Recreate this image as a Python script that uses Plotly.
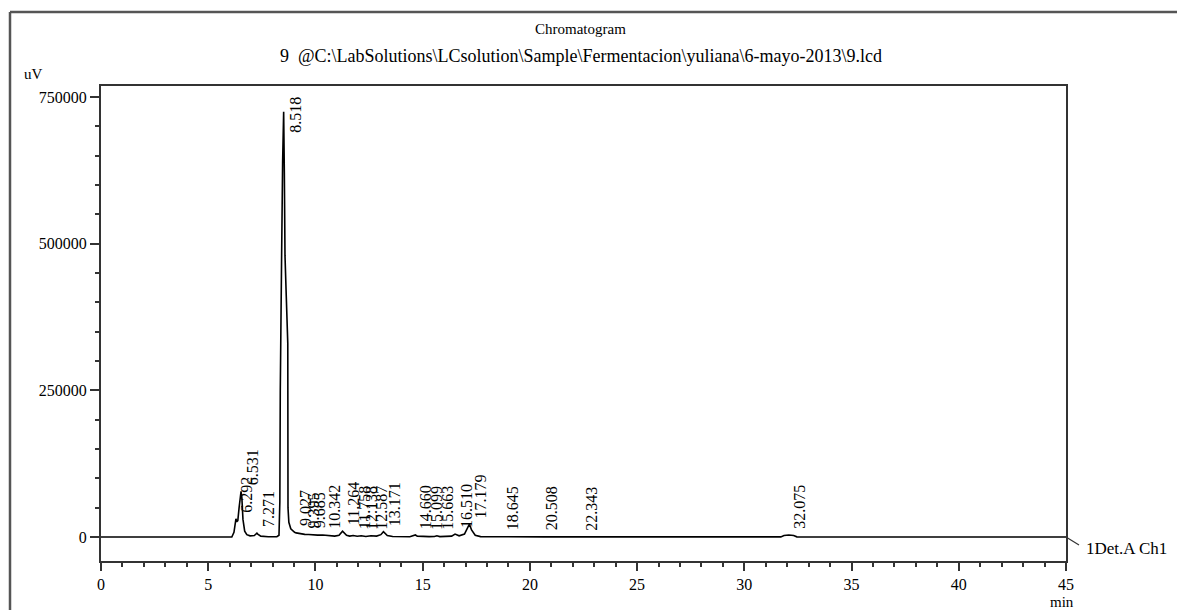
import plotly.graph_objects as go

# ---------------- data ----------------
time_min = [0.0, 6.10, 6.20, 6.26, 6.292, 6.33, 6.38, 6.44, 6.49, 6.531, 6.57, 6.62, 6.70,
            6.80, 6.95, 7.15, 7.24, 7.271, 7.31, 7.45, 7.80, 8.20, 8.30, 8.34, 8.36, 8.38,
            8.42, 8.47, 8.518, 8.55, 8.58, 8.64, 8.69, 8.71, 8.72, 8.76, 8.85, 8.95, 9.027,
            9.10, 9.30, 9.395, 9.50, 9.685, 9.90, 10.10, 10.342, 10.60, 10.90, 11.10, 11.264,
            11.45, 11.60, 11.758, 11.95, 12.138, 12.35, 12.587, 12.85, 13.05, 13.171, 13.35,
            13.60, 14.40, 14.60, 14.660, 14.75, 14.95, 15.099, 15.30, 15.55, 15.663, 15.80,
            16.35, 16.510, 16.70, 16.95, 17.10, 17.179, 17.28, 17.45, 17.70, 18.50, 18.645,
            18.80, 20.40, 20.508, 20.65, 22.25, 22.343, 22.45, 31.70, 31.85, 32.075, 32.30,
            32.45, 45.0]
signal_uv = [0, 0, 8000, 24000, 31000, 26000, 28000, 50000, 70000, 78000, 66000, 30000, 10000,
             4000, 2000, 2500, 5500, 6500, 5000, 1500, 500, 600, 3000, 60000, 250000, 360000,
             470000, 640000, 725000, 620000, 480000, 410000, 340000, 330000, 50000, 25000, 14000,
             10000, 8000,
             7000, 5500, 5000, 4500, 4200, 3500, 3200, 3400, 2500, 1500, 3000, 10000,
             3000, 1500, 2500, 1200, 2000, 1000, 2200, 1500, 4000, 9000, 2500,
             800, 500, 2500, 3500, 1500, 800, 1500, 700, 900, 2000, 700,
             1500, 5000, 2000, 5000, 15000, 22000, 12000, 3000, 700, 400, 1200,
             300, 300, 900, 300, 300, 800, 200, 200, 2500, 3500, 2500,
             300, 0]

peak_rt = [6.292, 6.531, 7.271, 8.518, 9.027, 9.395, 9.685, 10.342, 11.264, 11.758, 12.138,
           12.587, 13.171, 14.660, 15.099, 15.663, 16.510, 17.179, 18.645, 20.508, 22.343, 32.075]
peak_height = [31000, 78000, 6500, 725000, 8000, 5000, 4200, 3400, 10000, 2500, 2000,
               2200, 9000, 3500, 1500, 2000, 5000, 22000, 1200, 900, 800, 3500]
peak_label = ["6.292", "6.531", "7.271", "8.518", "9.027", "9.395", "9.685", "10.342", "11.264",
              "11.758", "12.138", "12.587", "13.171", "14.660", "15.099", "15.663", "16.510",
              "17.179", "18.645", "20.508", "22.343", "32.075"]

x_tick_vals = [0, 5, 10, 15, 20, 25, 30, 35, 40, 45]
y_tick_vals = [0, 250000, 500000, 750000]
y_tick_text = ["0", "250000", "500000", "750000"]

title_text = "Chromatogram"
subtitle_text = "9  @C:\\LabSolutions\\LCsolution\\Sample\\Fermentacion\\yuliana\\6-mayo-2013\\9.lcd"
y_unit = "uV"
x_unit = "min"
channel_text = "1Det.A Ch1"

# ---------------- layout geometry ----------------
W, H = 1177, 610
L, R, T, B = 101, 111, 86, 49
X_RANGE = [0, 45]
Y_RANGE = [-40900, 768750]
plot_w = W - L - R
plot_h = H - T - B
FONT = "Liberation Serif"


def px_x(px):
    return (px - L) / plot_w


def px_y(py):
    return (H - B - py) / plot_h


def val_to_py(v):
    return (H - B) - (v - Y_RANGE[0]) / (Y_RANGE[1] - Y_RANGE[0]) * plot_h


fig = go.Figure()
fig.add_trace(go.Scatter(x=time_min, y=signal_uv, mode="lines",
                         line=dict(color="black", width=1.6), hoverinfo="skip",
                         showlegend=False))

annotations = []
label_len = 46
for rt, h, lab in zip(peak_rt, peak_height, peak_label):
    bottom = val_to_py(h) - 4
    top_limit = T + 3
    if bottom - label_len < top_limit:
        bottom = top_limit + label_len
    yv = Y_RANGE[0] + (H - B - bottom) / plot_h * (Y_RANGE[1] - Y_RANGE[0])
    annotations.append(dict(x=rt, y=yv, xref="x", yref="y", text=lab, showarrow=False,
                            textangle=-90, xanchor="center", yanchor="bottom", xshift=11,
                            font=dict(family=FONT, size=16, color="black")))

annotations += [
    dict(x=px_x(580), y=px_y(29), xref="paper", yref="paper", text=title_text, showarrow=False,
         xanchor="center", yanchor="middle", font=dict(family=FONT, size=15, color="black")),
    dict(x=px_x(581), y=px_y(56), xref="paper", yref="paper", text=subtitle_text,
         showarrow=False, xanchor="center", yanchor="middle",
         font=dict(family=FONT, size=18, color="black")),
    dict(x=px_x(22), y=px_y(74), xref="paper", yref="paper", text=y_unit, showarrow=False,
         xanchor="left", yanchor="middle", font=dict(family=FONT, size=15, color="black")),
    dict(x=px_x(1062), y=px_y(592), xref="paper", yref="paper", text=x_unit, showarrow=False,
         xanchor="center", yanchor="top", font=dict(family=FONT, size=15, color="black")),
    dict(x=px_x(1084), y=px_y(548), xref="paper", yref="paper", text=channel_text,
         showarrow=False, xanchor="left", yanchor="middle",
         font=dict(family=FONT, size=17, color="black")),
]

base_py = val_to_py(0)
shapes = [
    # outer frame (left and top)
    dict(type="line", xref="paper", yref="paper", x0=px_x(10), x1=px_x(10),
         y0=px_y(12), y1=px_y(H + 5), line=dict(color="#555555", width=2.5)),
    dict(type="line", xref="paper", yref="paper", x0=px_x(10), x1=px_x(W + 5),
         y0=px_y(12), y1=px_y(12), line=dict(color="#555555", width=2.5)),
    # channel tag line
    dict(type="line", xref="paper", yref="paper", x0=1.0, x1=px_x(1079),
         y0=px_y(base_py), y1=px_y(base_py + 8), line=dict(color="#333333", width=1.2)),
]

fig.update_layout(
    width=W, height=H,
    margin=dict(l=L, r=R, t=T, b=B, pad=0),
    paper_bgcolor="white", plot_bgcolor="white",
    showlegend=False,
    font=dict(family=FONT, size=16, color="black"),
    annotations=annotations,
    shapes=shapes,
    xaxis=dict(range=X_RANGE, tickvals=x_tick_vals, ticks="outside", ticklen=8, tickwidth=1.5,
               tickcolor="#333333", showline=True, linecolor="#333333", linewidth=2,
               mirror=True, showgrid=False, zeroline=False,
               tickfont=dict(family=FONT, size=16, color="black"),
               minor=dict(ticks="outside", ticklen=4, dtick=1, tickcolor="#333333",
                          tickwidth=1.5, showgrid=False)),
    yaxis=dict(range=Y_RANGE, tickvals=y_tick_vals, ticktext=y_tick_text, ticks="outside",
               ticklen=9, tickwidth=1.5, tickcolor="#333333", showline=True,
               linecolor="#333333", linewidth=2, mirror=True, showgrid=False,
               zeroline=False, tickfont=dict(family=FONT, size=16, color="black"),
               minor=dict(ticks="outside", ticklen=4, dtick=50000, tickcolor="#333333",
                          tickwidth=1.5, showgrid=False)),
)

fig.write_html("out.html")
